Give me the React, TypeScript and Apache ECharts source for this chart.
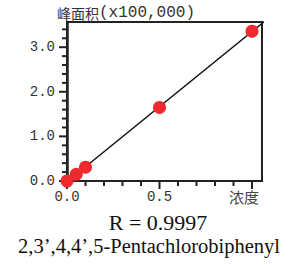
import React, { useEffect, useRef } from "react";
import * as echarts from "echarts";

const concentration = [0, 0.05, 0.1, 0.5, 1.0];
const peakArea = [0, 0.15, 0.31, 1.65, 3.36];
const yMajorTicks = [0, 1, 2, 3];
const yMinorTicks = [0.2, 0.4, 0.6, 0.8, 1.2, 1.4, 1.6, 1.8, 2.2, 2.4, 2.6, 2.8, 3.2, 3.4];
const xMajorTicks = [0, 0.5, 1.0];
const xLabelTicks = [0, 0.5];
const xMinorTicks = [0.1, 0.2, 0.3, 0.4, 0.6, 0.7, 0.8, 0.9];
const yAxisTitleCn = "峰面积";
const yAxisTitleUnit = "(x100,000)";
const xAxisTitle = "浓度";
const rText = "R = 0.9997";
const compound = "2,3’,4,4’,5-Pentachlorobiphenyl";
const X_MAX = 1.054;
const Y_MAX = 3.565;

function fit(xs: number[], ys: number[]) {
  const n = xs.length;
  const mx = xs.reduce((a, b) => a + b, 0) / n;
  const my = ys.reduce((a, b) => a + b, 0) / n;
  let sxy = 0, sxx = 0;
  for (let i = 0; i < n; i++) {
    sxy += (xs[i] - mx) * (ys[i] - my);
    sxx += (xs[i] - mx) * (xs[i] - mx);
  }
  const m = sxy / sxx;
  return { m, b: my - m * mx };
}

const MAJOR_LEN = 8;
const MINOR_LEN = 5;
const TICK_W = 2;
const AXIS_COLOR = "#222";

function tickSeries(values: number[], dir: "x" | "y", len: number) {
  return {
    type: "scatter",
    silent: true,
    clip: false,
    z: 1,
    symbol: "rect",
    symbolSize: dir === "x" ? [TICK_W, len] : [len, TICK_W],
    symbolOffset: dir === "x" ? [0, len / 2] : [-len / 2, 0],
    itemStyle: { color: AXIS_COLOR, opacity: 1 },
    emphasis: { disabled: true },
    data: values.map((v) => (dir === "x" ? [v, 0] : [0, v])),
  };
}

export default function App() {
  const ref = useRef<HTMLDivElement>(null);
  useEffect(() => {
    document.body.style.margin = "0";
    const chart = echarts.init(ref.current!, null, { renderer: "svg" });
    const { m, b } = fit(concentration, peakArea);
    const lineX = [0, 1.1];
    const labelFont = "'Liberation Mono', monospace";
    chart.setOption({
      animation: false,
      grid: { left: 67, right: 33, top: 22, bottom: 84, show: true, borderColor: AXIS_COLOR, borderWidth: 2, backgroundColor: "transparent" },
      xAxis: {
        type: "value", min: 0, max: X_MAX, interval: 0.5, position: "bottom",
        axisLine: { show: true, onZero: false, lineStyle: { color: AXIS_COLOR, width: 2 } },
        axisTick: { show: false },
        axisLabel: { customValues: xLabelTicks, formatter: (v: number) => (v >= 1 ? "" : v.toFixed(1)), fontFamily: labelFont, fontSize: 14, color: "#333", margin: 9 },
        splitLine: { show: false },
      },
      yAxis: {
        type: "value", min: 0, max: Y_MAX, interval: 1, position: "left",
        axisLine: { show: true, onZero: false, lineStyle: { color: AXIS_COLOR, width: 2.5 } },
        axisTick: { show: false },
        axisLabel: { customValues: yMajorTicks, formatter: (v: number) => (Number.isInteger(v) ? v.toFixed(1) : ""), fontFamily: labelFont, fontSize: 14, color: "#333", margin: 12 },
        splitLine: { show: false },
      },
      series: [
        tickSeries(xMajorTicks, "x", MAJOR_LEN),
        tickSeries(xMinorTicks, "x", MINOR_LEN),
        tickSeries(yMajorTicks, "y", MAJOR_LEN),
        tickSeries(yMinorTicks, "y", MINOR_LEN),
        {
          type: "line",
          data: lineX.map((x) => [x, m * x + b]),
          showSymbol: false,
          symbol: "none",
          lineStyle: { color: "#111", width: 1.4 },
          clip: true,
          z: 2,
        },
        {
          type: "scatter",
          data: concentration.map((x, i) => [x, peakArea[i]]),
          symbolSize: 13,
          itemStyle: { color: "#ee2a2e", opacity: 1 },
          clip: false,
          z: 3,
        },
      ],
      graphic: [
        {
          type: "text", left: 57, top: 5,
          style: {
            text: `{cn|${yAxisTitleCn}}{en|${yAxisTitleUnit}}`,
            rich: {
              cn: { fontFamily: "'Noto Sans CJK SC'", fontSize: 14, fill: "#333" },
              en: { fontFamily: labelFont, fontSize: 16, fill: "#333" },
            },
          },
        },
        {
          type: "text", x: 244, y: 196,
          style: { text: xAxisTitle, fontFamily: "'Noto Sans CJK SC'", fontSize: 15, fill: "#444", align: "center", verticalAlign: "middle" },
        },
        {
          type: "text", x: 158, y: 222,
          style: { text: rText, fontFamily: "'Liberation Serif', serif", fontSize: 22, fill: "#111", align: "center", verticalAlign: "middle" },
        },
        {
          type: "text", x: 149, y: 246,
          style: { text: compound, fontFamily: "'Liberation Serif', serif", fontSize: 20.5, fill: "#111", align: "center", verticalAlign: "middle" },
        },
      ],
    });
    return () => chart.dispose();
  }, []);
  return <div ref={ref} style={{ width: 295, height: 265 }} />;
}
